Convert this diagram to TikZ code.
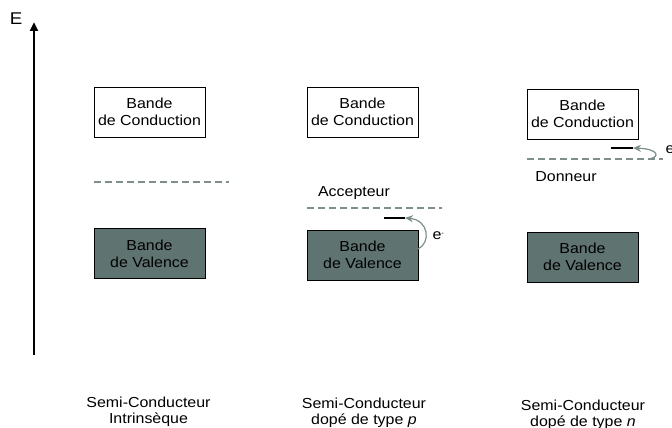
\documentclass[tikz,border=0pt]{standalone}
\usepackage{fontspec}
\setmainfont{Liberation Sans}[FakeStretch=1.1]
\usetikzlibrary{arrows.meta, positioning}

\definecolor{bandfill}{RGB}{95,115,112}
\definecolor{levelgray}{RGB}{125,142,140}

\begin{document}
\begin{tikzpicture}[
  x=1pt, y=-1pt,
  condband/.style={draw, line width=1pt, fill=white, minimum width=111pt, minimum height=50pt, inner sep=1pt, align=center, font=\fontsize{14.5}{17}\selectfont},
  valband/.style={condband, fill=bandfill},
  level/.style={draw=levelgray, dashed, dash pattern=on 7pt off 4pt, line width=1.2pt},
  trap/.style={draw=black, line width=1.2pt},
  jump/.style={-{Stealth[length=8pt, width=7pt]}, draw=levelgray, line width=1.2pt},
  lbl/.style={font=\fontsize{14.5}{16}\selectfont, align=center},
]
\useasboundingbox (0,0) rectangle (672,428);

% Energy axis
\coordinate (axisbot) at (34,355);
\coordinate (axistop) at (34,22);
\draw[line width=2.6pt, -{Triangle[length=9pt, width=8pt]}] (axisbot) -- (axistop);
\node[lbl, font=\fontsize{17}{18}\selectfont] (elabel) at (16,19) {E};

% Bands
\node[condband] (cond1) at (149.5,112) {Bande\\de Conduction};
\node[condband] (cond2) at (362.5,112) {Bande\\de Conduction};
\node[condband] (cond3) at (582.5,114) {Bande\\de Conduction};
\node[valband]  (val1)  at (149.5,253.5) {Bande\\de Valence};
\node[valband]  (val2)  at (362.5,255) {Bande\\de Valence};
\node[valband]  (val3)  at (582.5,257) {Bande\\de Valence};

% Fermi / dopant levels
\draw[level] (94,182) -- (229,182);
\draw[level] (307,208) -- (442,208);
\draw[level] (527,159) -- (663,159);
\node[lbl] (accept) at (354,193) {Accepteur};
\node[lbl] (donor)  at (566,177) {Donneur};

% Impurity states and electron jumps
\coordinate (acclvl) at (405,218);
\coordinate (donlvl) at (633,148);
\draw[trap] (384,218) -- (acclvl);
\draw[trap] (611,148) -- (donlvl);
\coordinate (valtop) at (418,249);
\coordinate (donfrom) at (648,159);
\draw[jump] (valtop) .. controls (431,243) and (429,220) .. (acclvl);
\draw[jump] (donfrom) .. controls (660,158) and (660,149) .. (donlvl);
\node[lbl, anchor=west] (ep) at (429,236) {e\raisebox{0.6ex}{\scriptsize -}};
\node[lbl, anchor=west] (en) at (662,150) {e\raisebox{0.6ex}{\scriptsize -}};

% Captions
\node[lbl] (cap1) at (148.5,412) {Semi-Conducteur\\Intrinsèque};
\node[lbl] (cap2) at (364,413) {Semi-Conducteur\\dopé de type \textit{p}};
\node[lbl] (cap3) at (583,414.5) {Semi-Conducteur\\dopé de type \textit{n}};

\end{tikzpicture}
\end{document}
